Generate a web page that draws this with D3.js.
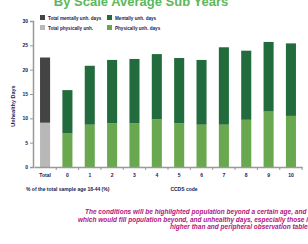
<!DOCTYPE html>
<html><head><meta charset="utf-8">
<script src="https://cdn.jsdelivr.net/npm/d3@7"></script>
<style>html,body{margin:0;padding:0;background:#fff;overflow:hidden}</style>
</head><body><svg id="c" width="308" height="244"></svg>
<script>
const categories = ["Total","0","1","2","3","4","5","6","7","8","9","10"];
const lowerValues = [9.1,6.9,8.7,9.0,9.0,9.8,9.0,8.7,8.7,9.7,11.4,10.5];
const upperValues = [13.4,8.9,12.1,13.0,13.2,13.4,13.4,13.3,15.9,14.2,14.3,14.9];
const yTicks = [0,5,10,15,20,25,30];
const legendLabels = ["Total mentally unh. days","Mentally unh. days","Total physically unh.","Physically unh. days"];
const titleText = "By Scale Average Sub Years";
const yLabel = "Unhealthy Days";
const xNote = "% of the total sample age 18-44 (%)";
const xLabel = "CCDS code";
const footLines = ["The conditions will be highlighted population beyond a certain age, and sample size",
  "which would fill population beyond, and unhealthy days, especially those in the",
  "higher than and peripheral observation tables"];
const footX = [85,78,170];

const svg = d3.select("#c");
const font = "Liberation Sans, Arial, sans-serif";
const x = d3.scaleBand().domain(categories).range([34,302]).paddingInner(0.55).paddingOuter(0.27);
const y = d3.scaleLinear().domain([0,30]).range([167,21]);

svg.append("text").attr("x",141).attr("y",5.5).attr("text-anchor","middle")
  .attr("font-family",font).attr("font-weight","bold").attr("font-size",13)
  .attr("fill","#5cb85c").text(titleText);

const data = categories.map((c,i)=>({c, lo:lowerValues[i], up:upperValues[i], total:i===0}));
const g = svg.append("g");
g.selectAll("rect.lo").data(data).join("rect").attr("class","lo")
  .attr("x",d=>x(d.c)).attr("width",x.bandwidth())
  .attr("y",d=>y(d.lo)).attr("height",d=>y(0)-y(d.lo))
  .attr("fill",d=>d.total?"#b8b8b8":"#6aa84f");
g.selectAll("rect.up").data(data).join("rect").attr("class","up")
  .attr("x",d=>x(d.c)).attr("width",x.bandwidth())
  .attr("y",d=>y(d.lo+d.up)).attr("height",d=>y(d.lo)-y(d.lo+d.up))
  .attr("fill",d=>d.total?"#444444":"#226b3c");

const ya = svg.append("g").attr("transform","translate(33,0)")
  .call(d3.axisLeft(y).tickValues(yTicks).tickSize(3).tickPadding(2));
ya.select(".domain").attr("stroke","#999").attr("stroke-width",1.5);
ya.selectAll(".tick line").attr("stroke","#999");
ya.selectAll("text").attr("font-family",font).attr("font-size",5).attr("font-weight","bold").attr("fill","#1a2050");

const xa = svg.append("g").attr("transform","translate(0,167)")
  .call(d3.axisBottom(x).tickSize(0).tickPadding(6));
xa.select(".domain").attr("stroke","#999").attr("stroke-width",1.5);
xa.selectAll("text").attr("font-family",font).attr("font-size",5).attr("font-weight","bold").attr("fill","#1a2050");
const step = x.step();
xa.selectAll("line.b").data(categories).join("line").attr("class","b")
  .attr("x1",d=>x(d)+x.bandwidth()/2+step/2).attr("x2",d=>x(d)+x.bandwidth()/2+step/2)
  .attr("y1",0).attr("y2",3).attr("stroke","#999");

svg.append("text").attr("transform","translate(15,106) rotate(-90)").attr("text-anchor","middle")
  .attr("font-family",font).attr("font-size",5.5).attr("font-weight","bold").attr("fill","#1a2050").text(yLabel);

const leg = [[40,15,"#444444"],[107,15,"#226b3c"],[40,25,"#b8b8b8"],[107,25,"#6aa84f"]];
leg.forEach((l,i)=>{
  svg.append("rect").attr("x",l[0]).attr("y",l[1]).attr("width",5).attr("height",5).attr("fill",l[2]);
  svg.append("text").attr("x",l[0]+8).attr("y",l[1]+4.5).attr("font-family",font).attr("font-size",4.6)
    .attr("font-weight","bold").attr("fill","#1a2050").text(legendLabels[i]);
});

svg.append("text").attr("x",26).attr("y",191).attr("font-family",font).attr("font-size",5)
  .attr("font-weight","bold").attr("fill","#1a2050").text(xNote);
svg.append("text").attr("x",184).attr("y",191).attr("text-anchor","middle").attr("font-family",font).attr("font-size",5)
  .attr("font-weight","bold").attr("fill","#1a2050").text(xLabel);

footLines.forEach((t,i)=>{
  svg.append("text").attr("x",footX[i]).attr("y",214+i*7.5)
    .attr("font-family",font).attr("font-size",6.5).attr("font-style","italic").attr("font-weight","bold")
    .attr("fill","#b3157f").text(t);
});
</script></body></html>
